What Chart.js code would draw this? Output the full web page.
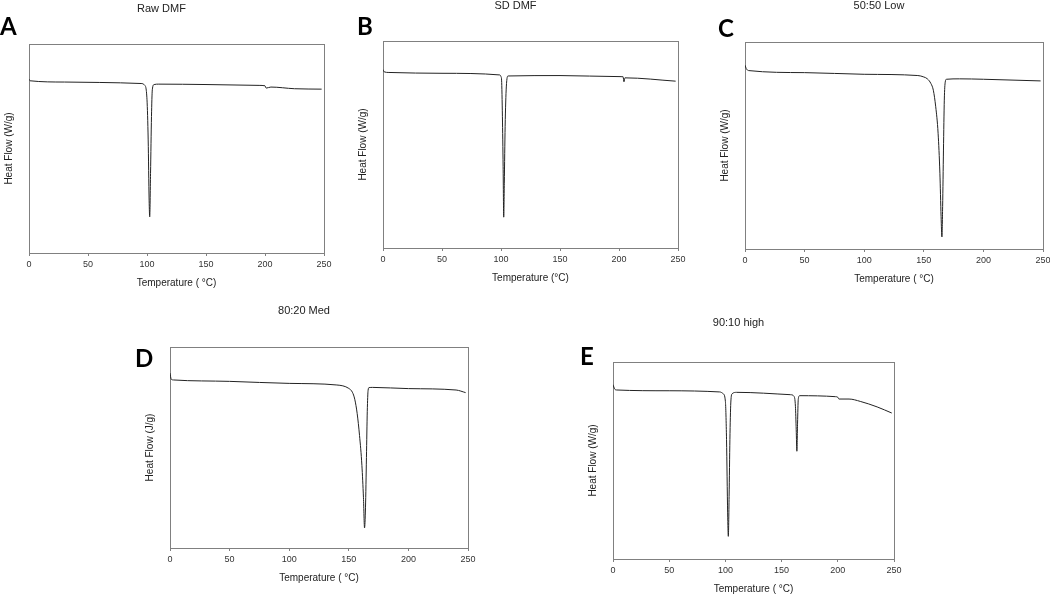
<!DOCTYPE html>
<html>
<head>
<meta charset="utf-8">
<script src="https://cdn.jsdelivr.net/npm/chart.js@4.4.1/dist/chart.umd.min.js"></script>
<style>
html, body { margin: 0; padding: 0; background: #fff; width: 1050px; height: 594px; overflow: hidden; }
canvas { position: absolute; }
.letter { position: absolute; font: bold 24px Lato, "Open Sans", sans-serif; line-height: 24px; color: #000; }
</style>
</head>
<body>
<script>
// DSC traces, heat flow in arbitrary units (0 = top of frame, -100 = bottom)
const rawDmfTemp = [0, 1, 30, 60, 95, 98, 100, 101, 101.8, 102.3, 103, 103.8, 104.5, 106, 110, 150, 195, 200, 201, 205, 225, 248];
const rawDmfFlow = [-16.8, -17.6, -18.2, -18.4, -18.9, -19.7, -26.7, -45.9, -74.7, -82.7, -61.9, -34.7, -21.9, -19.4, -19.2, -19.4, -19.8, -20, -21.1, -20.6, -21.4, -21.6];

const sdDmfTemp = [0, 1, 5, 50, 99, 100, 100.5, 101.2, 101.8, 102.3, 102.8, 103.5, 104.5, 106, 150, 200, 203.5, 204.2, 205, 248];
const sdDmfFlow = [-13.8, -14.9, -15.2, -15.6, -16.4, -17.2, -18.9, -36.6, -60.7, -85.1, -68.7, -41.4, -22.2, -16.9, -16.7, -17.2, -17.3, -19.7, -17.8, -19.4];

const lowTemp = [0, 1, 3, 50, 100, 145, 150, 153, 156, 158, 160, 162, 163.5, 164.5, 165.2, 165.8, 166.5, 167.2, 168, 169, 180, 200, 248];
const lowFlow = [-11.2, -12.8, -13.8, -14.8, -15.6, -16.2, -16.9, -17.8, -20.1, -23.3, -31.3, -44.1, -63.4, -84.3, -94.2, -79.5, -52.2, -28.1, -19.3, -18, -17.8, -18, -18.8];

const medTemp = [0, 1, 3, 50, 100, 140, 150, 153, 155, 157, 159, 161, 162.3, 163.2, 164, 164.8, 165.5, 166.2, 167, 170, 200, 240, 248];
const medFlow = [-13, -16, -16.4, -17.1, -18.1, -18.9, -20.6, -22.5, -26, -33, -44, -59, -75, -90, -80, -55, -32, -21.5, -20.2, -20.1, -20.7, -21.4, -22.7];

const highTemp = [0, 1.5, 3, 50, 95, 98, 100, 101, 102, 102.6, 103.3, 104, 104.8, 106, 110, 158, 161, 162.3, 163, 163.6, 164.2, 164.8, 166, 198, 200, 201, 210, 220, 235, 248];
const highFlow = [-11.5, -13.7, -14.2, -14.6, -15.2, -16.1, -20, -39.4, -76.6, -88.5, -68.2, -39.4, -20.8, -16.1, -15.4, -16.6, -17.4, -22.5, -34.3, -45.3, -31, -19.1, -17.1, -17.6, -17.9, -18.8, -18.8, -20, -22.8, -25.9];

const tempTicks = [0, 50, 100, 150, 200, 250];
const panelTitles = ['Raw DMF', 'SD DMF', '50:50 Low', '80:20 Med', '90:10 high'];
const panelLetters = ['A', 'B', 'C', 'D', 'E'];
const yTitles = ['Heat Flow (W/g)', 'Heat Flow (W/g)', 'Heat Flow (W/g)', 'Heat Flow (J/g)', 'Heat Flow (W/g)'];
const xTitles = ['Temperature ( \u00B0C)', 'Temperature (\u00B0C)', 'Temperature ( \u00B0C)', 'Temperature ( \u00B0C)', 'Temperature ( \u00B0C)'];

const temps = [rawDmfTemp, sdDmfTemp, lowTemp, medTemp, highTemp];
const flows = [rawDmfFlow, sdDmfFlow, lowFlow, medFlow, highFlow];

// frame of each plot: left, top, right, bottom, title y, letter x / y
const boxes = [
  [29, 44, 324, 253, 9, 0, 14],
  [383, 41, 678, 248, 6, 357, 14],
  [745, 42, 1043, 249, 6, 718, 16],
  [170, 347, 468, 548, 311, 135, 346],
  [613, 362, 894, 559, 323, 580, 344]
];

const frame = {
  id: 'frame',
  beforeDatasetsDraw(chart) {
    const {ctx, chartArea: a} = chart;
    ctx.save();
    ctx.strokeStyle = '#808080';
    ctx.lineWidth = 1;
    ctx.strokeRect(Math.round(a.left) + 0.5, Math.round(a.top) + 0.5,
      Math.round(a.right - a.left), Math.round(a.bottom - a.top));
    ctx.restore();
  }
};

boxes.forEach((b, i) => {
  const [L, T, R, B, ty, lx, ly] = b;
  const top = ty - 9;
  const cv = document.createElement('canvas');
  cv.width = R - L + 60;
  cv.height = B - top + 42;
  cv.style.left = (L - 30) + 'px';
  cv.style.top = top + 'px';
  document.body.appendChild(cv);

  const lt = document.createElement('div');
  lt.className = 'letter';
  lt.textContent = panelLetters[i];
  lt.style.left = lx + 'px';
  lt.style.top = ly + 'px';
  document.body.appendChild(lt);

  new Chart(cv, {
    type: 'line',
    data: {
      datasets: [{
        data: temps[i].map((t, k) => ({x: t, y: flows[i][k]})),
        borderColor: '#222',
        borderWidth: 1,
        pointRadius: 0,
        cubicInterpolationMode: 'monotone',
        fill: false
      }]
    },
    options: {
      responsive: false,
      animation: false,
      layout: {padding: {left: 0, right: 30, top: 0, bottom: 0}},
      plugins: {
        legend: {display: false},
        tooltip: {enabled: false},
        title: {
          display: true,
          text: panelTitles[i],
          color: '#222',
          font: {family: 'Liberation Sans, Arial', size: 11, weight: 'normal'},
          padding: {top: 2, bottom: T - top - 13.2 - 2}
        }
      },
      scales: {
        x: {
          type: 'linear',
          min: 0,
          max: 250,
          afterBuildTicks: s => { s.ticks = tempTicks.map(v => ({value: v})); },
          afterFit: s => { s.height = 42; },
          grid: {display: true, drawOnChartArea: false, drawTicks: true, tickLength: 3, color: '#808080'},
          border: {display: false},
          ticks: {color: '#333', font: {family: 'Liberation Sans, Arial', size: 9}, padding: 3, maxRotation: 0},
          title: {display: true, text: xTitles[i], color: '#222',
            font: {family: 'Liberation Sans, Arial', size: 10}, padding: {top: 0, bottom: 6}}
        },
        y: {
          min: -100,
          max: 0,
          afterFit: s => { s.width = 30; },
          grid: {display: false},
          border: {display: false},
          ticks: {display: false},
          title: {display: true, text: yTitles[i], color: '#222',
            font: {family: 'Liberation Sans, Arial', size: 10}, padding: {top: 4, bottom: 0}}
        }
      }
    },
    plugins: [frame]
  });
});
</script>
</body>
</html>
